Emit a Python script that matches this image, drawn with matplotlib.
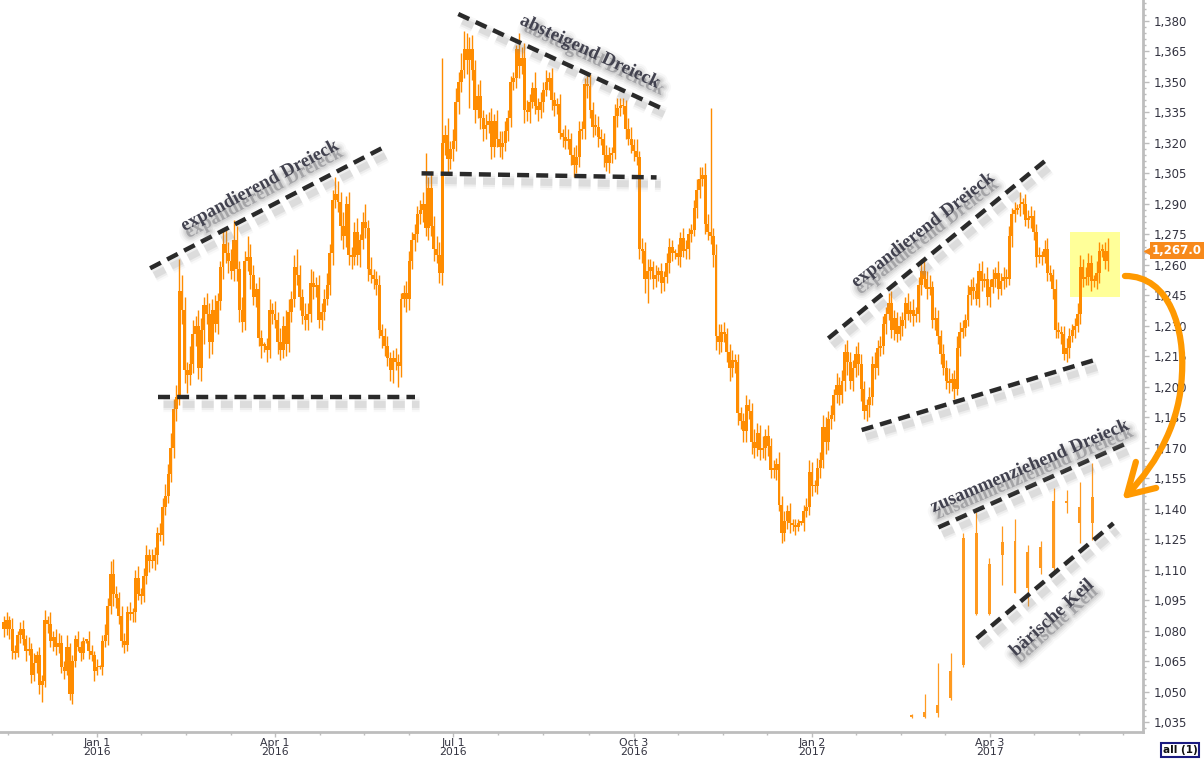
# gold daily candles with hand drawn chart patterns
import pandas as pd
import numpy as np
import matplotlib
matplotlib.use('Agg')
import matplotlib.pyplot as plt
import matplotlib.patheffects as pe
from matplotlib.patches import Rectangle, PathPatch
from matplotlib.path import Path
from matplotlib.transforms import blended_transform_factory

# ---- data ----
dates = pd.bdate_range('2015-11-13', '2017-05-31')
first_open = 1084

closes = [
    1081,
    1085, 1081, 1070, 1069, 1078,
    1081, 1076, 1070, 1071, 1058,
    1064, 1068, 1053, 1055, 1085,
    1083, 1075, 1077, 1072, 1074,
    1062, 1060, 1072, 1049, 1065,
    1076, 1072, 1069, 1075, 1075,
    1070, 1068, 1060, 1062, 1062,
    1075, 1078, 1092, 1108, 1098,
    1096, 1087, 1075, 1073, 1089,
    1088, 1089, 1106, 1098, 1097,
    1107, 1117, 1114, 1114, 1117,
    1128, 1127, 1141, 1146, 1157,
    1170, 1189, 1195, 1247, 1238,
    1208, 1206, 1211, 1226, 1230,
    1209, 1228, 1240, 1236, 1222,
    1238, 1231, 1242, 1259, 1270,
    1266, 1262, 1257, 1272, 1258,
    1238, 1232, 1262, 1264, 1255,
    1244, 1248, 1224, 1220, 1220,
    1218, 1238, 1236, 1233, 1222,
    1218, 1230, 1221, 1237, 1243,
    1259, 1255, 1244, 1235, 1233,
    1236, 1251, 1249, 1250, 1233,
    1237, 1243, 1250, 1266, 1292,
    1295, 1291, 1279, 1274, 1290,
    1265, 1264, 1276, 1265, 1272,
    1281, 1278, 1258, 1255, 1253,
    1250, 1228, 1225, 1220, 1214,
    1208, 1214, 1212, 1210, 1243,
    1246, 1243, 1262, 1272, 1275,
    1285, 1287, 1290, 1278, 1298,
    1279, 1268, 1265, 1256, 1320,
    1324, 1312, 1317, 1321, 1340,
    1350, 1356, 1366, 1361, 1366,
    1356, 1336, 1343, 1332, 1327,
    1329, 1331, 1318, 1331, 1322,
    1318, 1320, 1326, 1332, 1350,
    1352, 1366, 1358, 1362, 1336,
    1335, 1340, 1347, 1338, 1336,
    1340, 1346, 1350, 1352, 1341,
    1338, 1339, 1325, 1323, 1321,
    1322, 1314, 1309, 1313, 1326,
    1327, 1349, 1348, 1336, 1328,
    1328, 1323, 1322, 1314, 1310,
    1314, 1315, 1333, 1337, 1338,
    1338, 1327, 1322, 1319, 1316,
    1313, 1268, 1267, 1253, 1257,
    1259, 1253, 1255, 1257, 1251,
    1254, 1261, 1269, 1266, 1266,
    1264, 1273, 1267, 1268, 1275,
    1277, 1288, 1297, 1302, 1304,
    1280, 1276, 1274, 1265, 1225,
    1222, 1227, 1226, 1217, 1209,
    1213, 1212, 1187, 1183, 1178,
    1191, 1188, 1173, 1170, 1177,
    1169, 1170, 1176, 1171, 1159,
    1159, 1162, 1142, 1128, 1134,
    1139, 1133, 1132, 1131, 1133,
    1133, 1139, 1141, 1158, 1151,
    1151, 1160, 1164, 1180, 1173,
    1184, 1186, 1196, 1201, 1196,
    1203, 1217, 1212, 1203, 1209,
    1216, 1211, 1199, 1188, 1191,
    1195, 1211, 1209, 1219, 1220,
    1231, 1236, 1241, 1228, 1234,
    1226, 1230, 1233, 1241, 1236,
    1238, 1235, 1236, 1250, 1257,
    1253, 1248, 1249, 1233, 1234,
    1225, 1216, 1209, 1203, 1202,
    1204, 1199, 1219, 1227, 1229,
    1233, 1245, 1249, 1247, 1243,
    1257, 1252, 1253, 1244, 1249,
    1253, 1256, 1248, 1252, 1254,
    1253, 1274, 1285, 1287, 1288,
    1290, 1290, 1282, 1283, 1284,
    1276, 1264, 1264, 1264, 1268,
    1256, 1255, 1248, 1228, 1227,
    1226, 1216, 1219, 1225, 1228,
    1230, 1236, 1259, 1253, 1254,
    1261, 1252, 1252, 1256, 1267,
    1267, 1262, 1267,
]

# upper / lower wick lengths in dollars
wick_hi = [
    3,
    4, 2, 5, 3, 2,  3, 4, 2, 6, 3,  5, 2, 4, 3, 5,  2, 6, 3, 4, 5,
    4, 3, 6, 2, 3,  2, 4, 3, 2, 1,  5, 3, 2, 4, 1,  3, 5, 4, 6, 7,
    4, 3, 5, 4, 3,  5, 2, 4, 6, 3,  4, 5, 3, 6, 4,  3, 5, 4, 6, 5,
    7, 5, 6, 16, 8,  6, 4, 9, 7, 5,  8, 6, 4, 6, 5,  5, 7, 4, 3, 8,
    8, 5, 6, 10, 7,  4, 6, 5, 10, 6,  5, 3, 6, 4, 2,  4, 5, 3, 6, 4,
    7, 5, 8, 6, 4,  6, 9, 5, 4, 6,  5, 7, 6, 4, 5,  4, 5, 6, 4, 5,
    8, 6, 5, 7, 4,  6, 4, 5, 7, 3,  5, 9, 4, 6, 3,  4, 5, 3, 4, 5,
    3, 4, 5, 4, 3,  4, 6, 5, 4, 5,  4, 5, 6, 25, 5,  8, 5, 6, 6, 42,
    5, 8, 4, 6, 7,  5, 8, 9, 8, 6,  7, 5, 6, 8, 4,  5, 4, 6, 3, 5,
    4, 6, 5, 4, 3,  3, 2, 8, 5, 7,  5, 4, 3, 8, 4,  5, 4, 6, 3, 5,
    4, 3, 5, 2, 6,  5, 3, 4, 6, 5,  4, 3, 5, 6, 4,  6, 5, 4, 3, 5,
    4, 3, 6, 5, 4,  4, 3, 5, 6, 3,  6, 3, 5, 4, 6,  4, 3, 5, 2, 4,
    3, 5, 4, 3, 2,  4, 3, 5, 4, 3,  3, 4, 5, 6, 4,  6, 5, 61, 4, 5,
    6, 4, 5, 3, 4,  5, 3, 4, 3, 4,  5, 3, 4, 6, 5,  4, 6, 3, 5, 4,
    5, 3, 6, 4, 5,  3, 4, 2, 3, 2,  1, 3, 4, 6, 5,  3, 5, 4, 6, 5,
    4, 5, 3, 6, 4,  5, 4, 6, 5, 4,  4, 6, 5, 4, 3,  5, 4, 6, 4, 5,
    4, 3, 5, 6, 4,  3, 5, 4, 3, 5,  4, 5, 3, 4, 6,  5, 4, 6, 3, 5,
    4, 3, 5, 4, 6,  3, 4, 6, 5, 4,  3, 5, 4, 5, 4,  4, 5, 3, 6, 4,
    5, 3, 6, 4, 5,  4, 5, 3, 4, 2,  6, 3, 5, 4, 5,  3, 4, 5, 3, 4,
    5, 4, 3, 5, 4,  3, 4, 5, 4, 3,  4, 5, 6, 4, 5,  5, 4, 3, 6, 4,
    3, 4, 6,
]

wick_lo = [
    4,
    3, 5, 4, 3, 2,  4, 3, 5, 2, 4,  3, 5, 4, 8, 3,  4, 3, 5, 4, 3,
    3, 4, 2, 3, 5,  3, 2, 4, 3, 1,  4, 3, 5, 2, 1,  4, 3, 5, 4, 6,
    5, 4, 3, 4, 3,  3, 4, 5, 3, 4,  3, 4, 5, 3, 4,  4, 3, 5, 4, 3,
    4, 5, 6, 4, 7,  6, 9, 5, 4, 6,  5, 6, 7, 5, 8,  6, 4, 5, 4, 6,
    5, 6, 4, 5, 6,  6, 5, 4, 5, 7,  4, 5, 4, 6, 3,  6, 4, 5, 4, 6,
    5, 4, 6, 4, 5,  4, 5, 6, 4, 5,  5, 4, 6, 5, 4,  5, 4, 3, 5, 6,
    4, 5, 7, 6, 5,  5, 6, 4, 5, 6,  4, 5, 6, 4, 5,  5, 4, 6, 5, 4,
    5, 6, 4, 10, 5,  4, 6, 5, 4, 5,  4, 5, 6, 4, 6,  5, 6, 4, 5, 6,
    6, 8, 5, 6, 5,  6, 5, 4, 7, 24,  5, 6, 4, 5, 6,  5, 4, 6, 5, 4,
    5, 6, 4, 5, 4,  4, 5, 6, 4, 6,  4, 5, 3, 4, 5,  4, 5, 3, 4, 5,
    5, 4, 3, 5, 4,  4, 5, 6, 4, 5,  4, 5, 6, 4, 5,  4, 5, 3, 6, 4,
    5, 4, 3, 5, 4,  4, 5, 3, 4, 5,  4, 5, 6, 7, 12,  4, 5, 4, 3, 5,
    4, 3, 5, 4, 3,  4, 5, 3, 4, 5,  4, 3, 5, 4, 3,  5, 4, 4, 6, 7,
    6, 5, 4, 5, 6,  4, 5, 6, 4, 5,  5, 4, 6, 5, 4,  5, 4, 6, 5, 4,
    4, 5, 3, 5, 4,  4, 5, 3, 4, 2,  1, 4, 3, 4, 5,  3, 4, 5, 4, 6,
    4, 5, 3, 4, 5,  4, 5, 6, 4, 5,  4, 5, 6, 4, 5,  6, 4, 5, 3, 4,
    4, 5, 3, 4, 5,  4, 3, 5, 4, 3,  4, 5, 3, 4, 5,  4, 5, 3, 4, 5,
    4, 5, 3, 4, 5,  4, 5, 3, 4, 3,  4, 3, 5, 4, 3,  4, 5, 3, 4, 5,
    3, 4, 5, 3, 4,  4, 3, 5, 4, 2,  4, 5, 3, 4, 5,  4, 5, 3, 4, 3,
    4, 3, 5, 4, 3,  5, 3, 4, 5, 3,  4, 3, 5, 4, 3,  4, 5, 3, 4, 5,
    3, 4, 5,
]

# small pasted candle set in the lower right corner
inset_open = [1037.5, 1037.5, 1039.5, 1047, 1063, 1128, 1113, 1117, 1124, 1118.5, 1111, 1111, 1143, 1141, 1133]
inset_close = [1038.5, 1040, 1043.5, 1060, 1125.5, 1088, 1088, 1123.5, 1098.5, 1101, 1121, 1144, 1144, 1133, 1145.5]
inset_high = [1039, 1049, 1064, 1069, 1128, 1138.5, 1115.5, 1131.5, 1135, 1122, 1124, 1150, 1149, 1153, 1162.5]
inset_low = [1037, 1037, 1037.5, 1046, 1062, 1087.5, 1087.5, 1102.5, 1098.5, 1092, 1108, 1108, 1138, 1123, 1124.5]

tick_dates = ['2016-01-01', '2016-04-01', '2016-07-01', '2016-10-03', '2017-01-02', '2017-04-03']
tick_labels = ['Jan 1\n2016', 'Apr 1\n2016', 'Jul 1\n2016', 'Oct 3\n2016', 'Jan 2\n2017', 'Apr 3\n2017']
y_ticks = list(range(1035, 1381, 15))
last_price = 1267.0

# pattern lines (bar index, price)
trend_lines = [
    ((53.4, 1258.3), (139.2, 1318.2)),
    ((56.4, 1195.0), (150.1, 1195.0)),
    ((152.5, 1305.0), (238.3, 1303.0)),
    ((165.9, 1383.4), (241.4, 1336.2)),
    ((301.0, 1223.8), (381.3, 1312.4)),
    ((313.2, 1178.7), (398.4, 1213.2)),
    ((341.2, 1130.8), (411.1, 1172.9)),
    ((355.2, 1076.2), (405.1, 1132.8)),
]
labels = [
    ('expandierend Dreieck', 93.5, 1298.8, 28),
    ('absteigend Dreieck', 214.0, 1364.7, -25),
    ('expandierend Dreieck', 335.6, 1277.1, 38),
    ('zusammenziehend Dreieck', 374.6, 1160.8, 23),
    ('bärische Keil', 382.7, 1086.2, 42),
]

# ---- styling ----
orange = '#FF8C00'
axis_gray = '#BDBDBD'
text_col = '#333340'

fig = plt.figure(figsize=(12.04, 7.63), dpi=100)
fig.patch.set_facecolor('white')
ax = fig.add_axes([0, 31 / 763, 1143 / 1204, 732 / 763])

x = np.arange(len(closes))
c = np.array(closes, dtype=float)
o = np.concatenate([[first_open], c[:-1]])
hi = np.maximum(o, c) + np.array(wick_hi)
lo = np.minimum(o, c) - np.array(wick_lo)

# highlighted last days
ax.add_patch(Rectangle((389.3, 1244.2), 18.2, 32.0, facecolor='#FFFF99', edgecolor='none', zorder=0.5))

ax.vlines(x, lo, hi, color=orange, linewidth=1.0, zorder=2)
ax.bar(x, np.maximum(np.abs(c - o), 0.8), bottom=np.minimum(o, c), width=1.08,
       color=orange, linewidth=0, zorder=2)

# inset candles
ix = 331.5 + 4.71 * np.arange(len(inset_open))
io = np.array(inset_open)
ic = np.array(inset_close)
ax.vlines(ix, inset_low, inset_high, color='#FF9A20', linewidth=0.9, zorder=2)
ax.bar(ix, np.maximum(np.abs(ic - io), 0.8), bottom=np.minimum(io, ic), width=1.05,
       color='#FF9A20', linewidth=0, zorder=2)

# dashed pattern lines with soft shadow
line_fx = [
    pe.Stroke(offset=(3, -5), linewidth=11, foreground='#999999', alpha=0.06),
    pe.Stroke(offset=(3, -5), linewidth=8, foreground='#8a8a8a', alpha=0.1),
    pe.Stroke(offset=(3, -5), linewidth=5, foreground='#808080', alpha=0.15),
    pe.Normal(),
]
for (x0, y0), (x1, y1) in trend_lines:
    ln, = ax.plot([x0, x1], [y0, y1], color='#2a2a2a', linewidth=3.2,
                  dashes=(2.7, 1.6), solid_capstyle='butt', zorder=5)
    ln.set_path_effects(line_fx)

# blurred drop shadow under the labels
text_fx = [
    pe.Stroke(offset=(3, -5), linewidth=10, foreground='#a0a0a0', alpha=0.07),
    pe.Stroke(offset=(3, -5), linewidth=7, foreground='#909090', alpha=0.1),
    pe.Stroke(offset=(3, -5), linewidth=4.5, foreground='#888888', alpha=0.12),
    pe.Stroke(offset=(3, -5), linewidth=2.5, foreground='#808080', alpha=0.12),
    pe.Normal(),
]
for txt, tx, ty, rot in labels:
    ax.text(tx, ty, txt, rotation=rot, rotation_mode='anchor', ha='center', va='center',
            fontsize=13.5, fontweight='bold', family='Liberation Serif', color='#42424f',
            zorder=6, path_effects=text_fx)

# orange hand drawn arrow
arrow_path = Path([(409.3, 1254.5), (425.8, 1254.5), (431.2, 1227.9), (430.1, 1205.8),
                   (429.4, 1183.6), (422.1, 1163.9), (410.0, 1146.7)],
                  [Path.MOVETO, Path.CURVE4, Path.CURVE4, Path.CURVE4,
                   Path.CURVE4, Path.CURVE4, Path.CURVE4])
ax.add_patch(PathPatch(arrow_path, facecolor='none', edgecolor='#FF9900', linewidth=4.5,
                       capstyle='round', clip_on=False, zorder=7))
ax.plot([413.3, 410.0, 420.7], [1163.0, 1146.7, 1150.2], color='#FF9900', linewidth=4.5,
        solid_capstyle='round', solid_joinstyle='round', clip_on=False, zorder=7)

# axes
ax.set_xlim(-1.41, 415.9)
ax.set_ylim(1030.1, 1390.3)
ax.set_facecolor('white')
for s in ['top', 'left']:
    ax.spines[s].set_visible(False)
for s in ['right', 'bottom']:
    ax.spines[s].set_color(axis_gray)
    ax.spines[s].set_linewidth(2)

ax.yaxis.tick_right()
ax.set_yticks(y_ticks)
ax.set_yticklabels([f'{v:,}' for v in y_ticks])
ax.set_yticks(list(range(1032, 1390, 3)), minor=True)
ax.tick_params(axis='y', which='major', direction='out', length=4.5, width=1, color=axis_gray,
               labelsize=8.5, labelcolor=text_col, pad=3)
ax.tick_params(axis='y', which='minor', direction='out', length=2.5, width=1, color=axis_gray)

tick_pos = [dates.get_loc(pd.Timestamp(d)) - 1 for d in tick_dates]
minor_pos = []
for a, b in zip(tick_pos[:-1], tick_pos[1:]):
    minor_pos += [a + k * (b - a) / 4 for k in range(1, 4)]
step = (tick_pos[1] - tick_pos[0]) / 4
minor_pos += [tick_pos[0] - k * step for k in (1, 2)]
minor_pos += [tick_pos[-1] + k * step for k in (1, 2, 3)]
ax.set_xticks(tick_pos)
ax.set_xticklabels(tick_labels, linespacing=0.88)
ax.set_xticks(minor_pos, minor=True)
ax.tick_params(axis='x', which='major', direction='out', length=3.5, width=1, color=axis_gray,
               labelsize=7.8, labelcolor=text_col, pad=0.5)
ax.tick_params(axis='x', which='minor', direction='out', length=2.5, width=1, color=axis_gray)

# last price tag
trans = blended_transform_factory(ax.transAxes, ax.transData)
ax.text(1.0 + 9 / 1143, last_price, f'{last_price:,.1f}', transform=trans, ha='left', va='center',
        fontsize=8.5, fontweight='bold', color='white', clip_on=False, zorder=8,
        bbox=dict(boxstyle='square,pad=0.2', facecolor='#F7891B', edgecolor='none'))
ax.plot([1.0 + 4 / 1143], [last_price], marker='<', markersize=5, color='#F7891B',
        transform=trans, clip_on=False, zorder=8)

fig.text(1180 / 1204, 1 - 750 / 763, 'all (1)', ha='center', va='center', fontsize=7.5,
         fontweight='bold', color='#101010',
         bbox=dict(boxstyle='square,pad=0.2', facecolor='white', edgecolor='#1a1a80', linewidth=1.5))

fig.savefig('out.png', dpi=100, facecolor='white')
